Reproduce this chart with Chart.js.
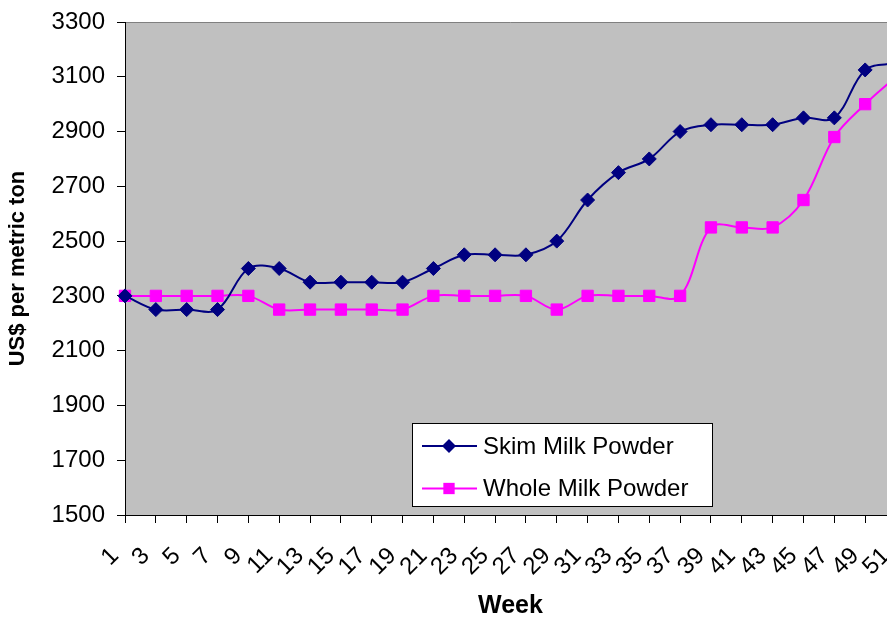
<!DOCTYPE html>
<html>
<head>
<meta charset="utf-8">
<script src="https://cdn.jsdelivr.net/npm/chart.js@4.4.1/dist/chart.umd.min.js"></script>
<style>
  html, body { margin: 0; padding: 0; background: #fff; overflow: hidden; }
  #milk { display: block; }
</style>
</head>
<body>
<canvas id="milk" width="905" height="619"></canvas>
<script>
const weeks = ['1', '3', '5', '7', '9', '11', '13', '15', '17', '19', '21', '23', '25',
  '27', '29', '31', '33', '35', '37', '39', '41', '43', '45', '47', '49', '51'];
const skim_milk = [2300, 2250, 2250, 2250, 2400, 2400, 2350, 2350, 2350, 2350, 2400, 2450, 2450,
  2450, 2500, 2650, 2750, 2800, 2900, 2925, 2925, 2925, 2950, 2950, 3125, 3150];
const whole_milk = [2300, 2300, 2300, 2300, 2300, 2250, 2250, 2250, 2250, 2250, 2300, 2300, 2300,
  2300, 2250, 2300, 2300, 2300, 2300, 2550, 2550, 2550, 2650, 2880, 3000, 3100];

const font_family = "'Liberation Sans', Arial, sans-serif";

// grey plot area with the thin top border
const plot_bg = {
  id: 'plot_bg',
  beforeDraw(chart) {
    const { ctx, chartArea: a } = chart;
    ctx.save();
    ctx.fillStyle = '#c0c0c0';
    ctx.fillRect(a.left, a.top, a.right - a.left, a.bottom - a.top);
    ctx.strokeStyle = '#808080';
    ctx.lineWidth = 1;
    ctx.beginPath();
    ctx.moveTo(a.left, a.top + 0.5);
    ctx.lineTo(a.right, a.top + 0.5);
    ctx.stroke();
    ctx.restore();
  }
};

// legend box inside the plot, line + marker per entry
const box_legend = {
  id: 'box_legend',
  afterDraw(chart) {
    const ctx = chart.ctx;
    const x = 412.5, y = 423.5, w = 300, h = 83;
    ctx.save();
    ctx.fillStyle = '#fff';
    ctx.fillRect(x, y, w, h);
    ctx.strokeStyle = '#000';
    ctx.lineWidth = 1;
    ctx.strokeRect(x, y, w, h);
    chart.data.datasets.forEach((ds, i) => {
      const cy = 446 + i * 42.5;
      ctx.strokeStyle = ds.borderColor;
      ctx.lineWidth = 2;
      ctx.beginPath();
      ctx.moveTo(422, cy);
      ctx.lineTo(477, cy);
      ctx.stroke();
      ctx.fillStyle = ds.backgroundColor;
      ctx.beginPath();
      if (ds.pointStyle === 'rectRot') {
        const r = ds.pointRadius;
        ctx.moveTo(449 - r, cy);
        ctx.lineTo(449, cy - r);
        ctx.lineTo(449 + r, cy);
        ctx.lineTo(449, cy + r);
        ctx.closePath();
      } else {
        const s = ds.pointRadius * Math.SQRT1_2;
        ctx.rect(449 - s, cy - s, 2 * s, 2 * s);
      }
      ctx.fill();
      ctx.fillStyle = '#000';
      ctx.font = '24px ' + font_family;
      ctx.textBaseline = 'middle';
      ctx.textAlign = 'left';
      ctx.fillText(ds.label, 483, cy + 1);
    });
    ctx.restore();
  }
};

new Chart(document.getElementById('milk'), {
  type: 'line',
  data: {
    labels: weeks,
    datasets: [{
      label: 'Skim Milk Powder',
      data: skim_milk,
      borderColor: '#000080',
      backgroundColor: '#000080',
      borderWidth: 2,
      pointStyle: 'rectRot',
      pointRadius: 7,
      pointBorderWidth: 1,
      tension: 0.35,
      clip: false
    }, {
      label: 'Whole Milk Powder',
      data: whole_milk,
      borderColor: '#ff00ff',
      backgroundColor: '#ff00ff',
      borderWidth: 2,
      pointStyle: 'rect',
      pointRadius: 8,
      pointBorderWidth: 1,
      tension: 0.35,
      clip: false
    }]
  },
  options: {
    responsive: false,
    animation: false,
    layout: { padding: { top: 22, right: 8, bottom: 0, left: 0 } },
    plugins: {
      legend: { display: false },
      tooltip: { enabled: false }
    },
    scales: {
      x: {
        offset: false,
        grid: { drawOnChartArea: false, drawTicks: true, tickLength: 8, color: '#000' },
        border: { display: true, color: '#000', width: 1 },
        ticks: {
          autoSkip: false, maxRotation: 45, minRotation: 45,
          color: '#000', padding: 19, labelOffset: -10,
          font: { family: font_family, size: 24 }
        },
        title: {
          display: true, text: 'Week', color: '#000',
          font: { family: font_family, size: 25, weight: 'bold' },
          padding: { top: 0, bottom: -2 }
        },
        afterFit(scale) {
          scale.height = 104;
          scale.paddingLeft = 0;
          scale.paddingRight = 0;
        }
      },
      y: {
        min: 1500,
        max: 3300,
        grid: { drawOnChartArea: false, drawTicks: true, tickLength: 8, color: '#000' },
        border: { display: true, color: '#000', width: 1 },
        ticks: {
          stepSize: 200, color: '#000', padding: 12,
          font: { family: font_family, size: 24 },
          callback: (v) => String(v)
        },
        title: {
          display: true, text: 'US$ per metric ton', color: '#000',
          font: { family: font_family, size: 22, weight: 'bold' },
          padding: { top: 5, bottom: 0 }
        },
        afterFit(scale) {
          scale.width = 125;
          scale.paddingTop = 0;
          scale.paddingBottom = 0;
        }
      }
    }
  },
  plugins: [plot_bg, box_legend]
});
</script>
</body>
</html>
